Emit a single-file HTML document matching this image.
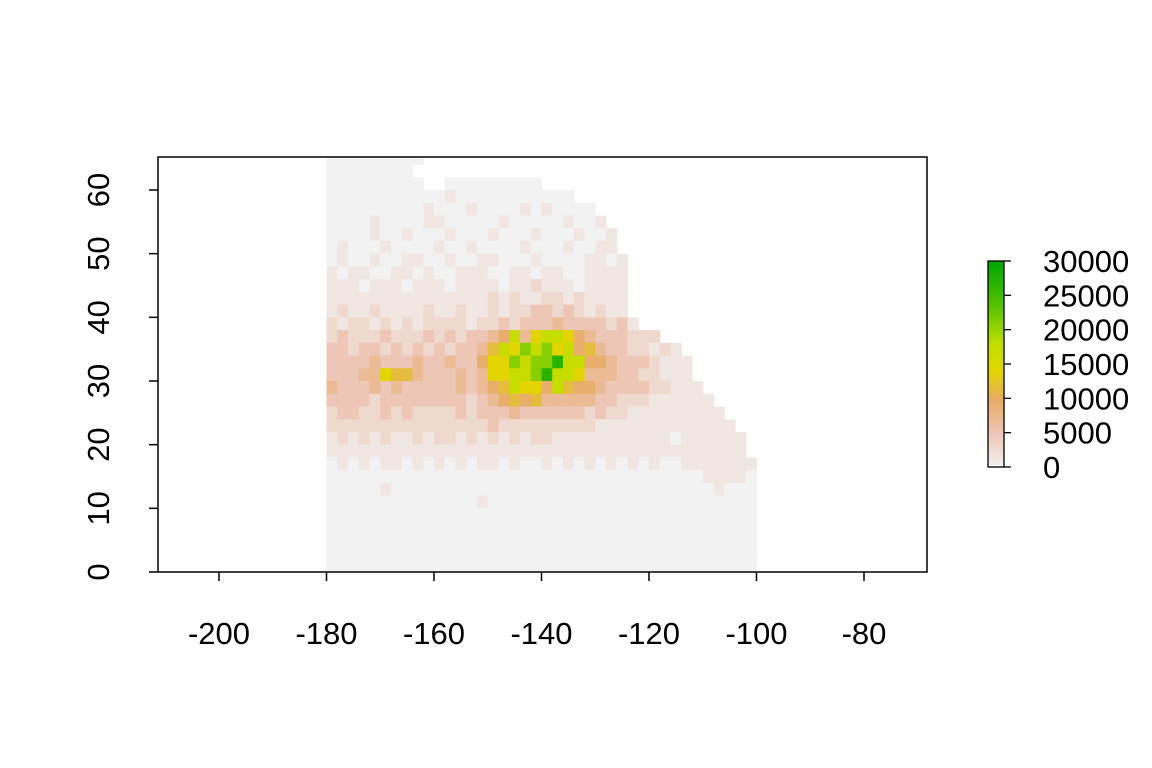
<!DOCTYPE html>
<html><head><meta charset="utf-8"><style>
html,body{margin:0;padding:0;background:#fff}
svg{display:block;font-family:"Liberation Sans",Arial,sans-serif}
</style></head><body>
<svg id="chart" width="1152" height="768" viewBox="0 0 1152 768" xmlns="http://www.w3.org/2000/svg">
<defs><clipPath id="box"><rect x="158" y="157" width="769" height="415"/></clipPath></defs>
<g id="cells" clip-path="url(#box)"></g>
<rect x="158" y="157" width="769" height="415" fill="none" stroke="#000" stroke-width="1.5"/>
<g id="axes"></g>
<g id="legend"></g>
</svg>
<script>
const xTicks = [-200,-180,-160,-140,-120,-100,-80];
const yTicks = [0,10,20,30,40,50,60];
const legendTicks = [0,5000,10000,15000,20000,25000,30000];
const cellLon0 = -180, cellLatTop = 64, cellSize = 2;
const levelCodes = ".ab123456789";
const levelValues = [null,0,1300,3000,5000,7000,9500,11500,14000,17000,21000,27000];
const gridRows = [
"aaaaaaaaa",
"aaaaaaaa",
"aaaaaaaaa..aaaaaaaaa",
"aaaaaaaaaaabaaaaaaaaaaa",
"aaaaaaaaabaaabaaaababaaaa",
"aaaabaaaabbaaaaabaaaaabaab",
"aaaabaabaaabaaabaaabaaabaab",
"abaaabaaaabaabaaaabaaabaabb",
"abaabaabbaabaabbaaabaaaabbab",
"babbaabbabaabbbaabbabbaabbbb",
"bbbabbbabbbabbbbabb1bbbabbbb",
"bbbbbbbbbbbbbbb1b1bb11b1bbbb",
"b1bb1bbbb1bb1bb1b1122121b1bb",
"1b11b1b1b1111b11212223222212b",
"1211121112"+"1212234736"+"77643222111",
"2212212121"+"2122357687"+"8674532211b1b",
"2222322232"+"2322466878"+"89774432221bbb",
"2223365532"+"2232366778"+"97763332211bbb",
"3222323222"+"2232345766"+"475443222211bbb",
"2222122222"+"2221234545"+"3333322111bbbbbb",
"1221121211"+"1121222322"+"22221211bbbbbbbbb",
"1111111111"+"1111121111"+"11111bbbbbbbbbbbbb",
"b1b1b1bb1b"+"11b1b1b1b1"+"1bbbbbbbbbbbabbbbbb",
"bbbbbbbbbb"+"bbbbbbbbbb"+"bbbbbbbbbbbbbbbbbbb",
"abababbaba"+"bababbabaa"+"babababababaabbbbbbb",
"aaaaaaaaaa"+"aaaaaaaaaa"+"aaaaaaaaaaaaaaabbbba",
"aaaaabaaaa"+"aaaaaaaaaa"+"aaaaaaaaaaaaaaaabaaa",
"aaaaaaaaaa"+"aaaabaaaaa"+"aaaaaaaaaaaaaaaaaaaa",
"aaaaaaaaaa"+"aaaaaaaaaa"+"aaaaaaaaaaaaaaaaaaaa",
"aaaaaaaaaa"+"aaaaaaaaaa"+"aaaaaaaaaaaaaaaaaaaa",
"aaaaaaaaaa"+"aaaaaaaaaa"+"aaaaaaaaaaaaaaaaaaaa",
"aaaaaaaaaa"+"aaaaaaaaaa"+"aaaaaaaaaaaaaaaaaaaa",
"aaaaaaaaaa"+"aaaaaaaaaa"+"aaaaaaaaaaaaaaaaaaaa"
];
const NS="http://www.w3.org/2000/svg";
const sx = lon => 219 + (lon + 200) * 5.375;
const sy = lat => 572 - lat * 6.3667;
const ly = v => 467 - v / 30000 * 206;
const stops=[[0,[242,242,242]],[0.17,[237,197,181]],[0.33,[232,172,100]],[0.47,[226,214,0]],[0.6,[190,222,0]],[0.8,[80,192,0]],[1,[0,166,0]]];
function col(v){const t=Math.max(0,Math.min(1,v/30000));
 for(let i=1;i<stops.length;i++){if(t<=stops[i][0]){const a=stops[i-1],b=stops[i],f=(t-a[0])/(b[0]-a[0]);
 return 'rgb('+a[1].map((c,k)=>Math.round(c+(b[1][k]-c)*f)).join(',')+')';}}return 'rgb(0,166,0)';}
function mk(tag,attrs,parent){const e=document.createElementNS(NS,tag);for(const k in attrs)e.setAttribute(k,attrs[k]);parent.appendChild(e);return e;}
const cells=document.getElementById('cells');
gridRows.forEach((row,r)=>{
 for(let c=0;c<row.length;c++){
  const v=levelValues[levelCodes.indexOf(row[c])];
  if(v==null)continue;
  const lon=cellLon0+c*cellSize, lat=cellLatTop-r*cellSize;
  const x0=sx(lon),x1=sx(lon+cellSize),y0=sy(lat+cellSize),y1=sy(lat);
  const e=mk('rect',{x:x0,y:y0,width:x1-x0+0.6,height:y1-y0+0.6,fill:col(v)},cells);
  
  
 }
});
const axes=document.getElementById('axes');
xTicks.forEach(t=>{
 const l=mk('line',{x1:sx(t),x2:sx(t),y1:572,y2:581,stroke:'#000','stroke-width':1.5},axes);
 
 
 const tx=mk('text',{x:sx(t),y:644,'text-anchor':'middle','font-size':31},axes);
 tx.textContent=t;
 
 
});
yTicks.forEach(t=>{
 const l=mk('line',{x1:149,x2:158,y1:sy(t),y2:sy(t),stroke:'#000','stroke-width':1.5},axes);
 
 
 const tx=mk('text',{x:0,y:0,'text-anchor':'middle','font-size':31,transform:'translate(109,'+sy(t)+') rotate(-90)'},axes);
 tx.textContent=t;
 
 
});
const lg=document.getElementById('legend');
for(let v=0;v<30000;v+=150){
 const e=mk('rect',{x:988,y:ly(v+150),width:16,height:ly(v)-ly(v+150)+0.5,fill:col(v+75)},lg);
 
 
}
const fr=mk('rect',{x:988,y:ly(30000),width:16,height:206,fill:'none',stroke:'#000','stroke-width':1.3},lg);


legendTicks.forEach(t=>{
 const l=mk('line',{x1:1004,x2:1011,y1:ly(t),y2:ly(t),stroke:'#000','stroke-width':1.3},lg);
 
 
 const tx=mk('text',{x:1043,y:ly(t)+11,'font-size':31},lg);
 tx.textContent=t;
 
 
});
</script>
</body></html>
